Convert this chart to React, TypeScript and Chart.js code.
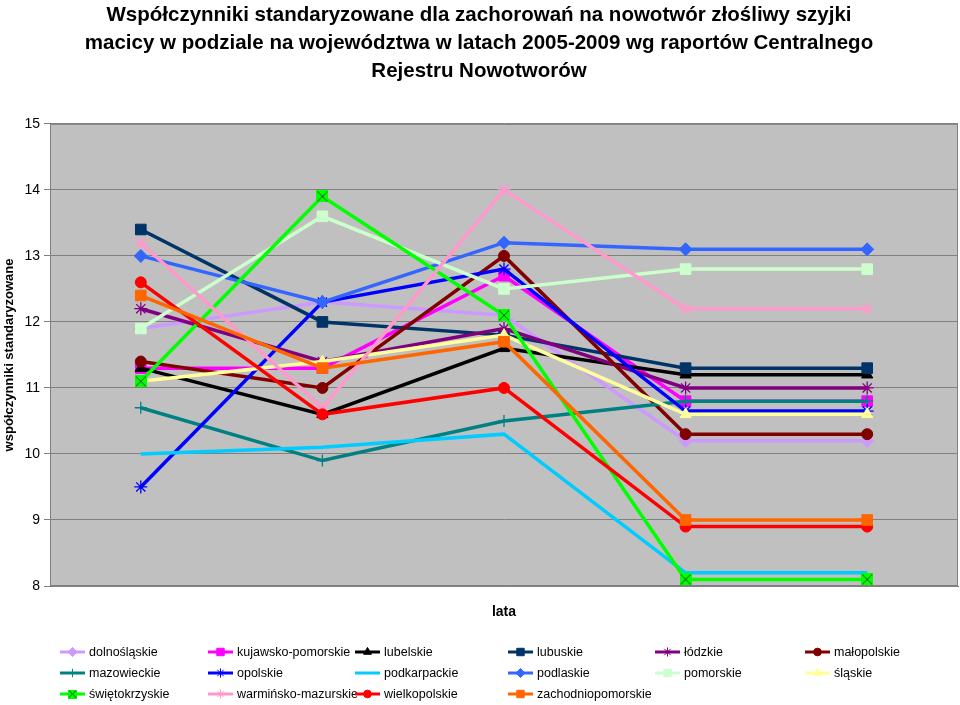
import React, { useEffect, useRef } from 'react';
import { Chart, registerables } from 'chart.js';
import { drawPoint } from 'chart.js/helpers';

Chart.register(...registerables);

const FONT = '"Liberation Sans", Arial, sans-serif';

const years = ['2005', '2006', '2007', '2008', '2009'];
const titleLines = [
  'Współczynniki standaryzowane dla zachorowań na nowotwór złośliwy szyjki',
  'macicy w podziale na województwa w latach 2005-2009 wg raportów Centralnego',
  'Rejestru Nowotworów',
];
const yAxisTitle = 'współczynniki standaryzowane';
const xAxisTitle = 'lata';
const yMin = 8;
const yMax = 15;
const yStep = 1;

const seriesNames = [
  'dolnośląskie', 'kujawsko-pomorskie', 'lubelskie', 'lubuskie', 'łódzkie', 'małopolskie',
  'mazowieckie', 'opolskie', 'podkarpackie', 'podlaskie', 'pomorskie', 'śląskie',
  'świętokrzyskie', 'warmińsko-mazurskie', 'wielkopolskie', 'zachodniopomorskie',
];

const dolnoslaskie = [11.9, 12.3, 12.1, 10.2, 10.2];
const kujawskoPomorskie = [11.3, 11.3, 12.7, 10.8, 10.8];
const lubelskie = [11.3, 10.6, 11.6, 11.2, 11.2];
const lubuskie = [13.4, 12.0, 11.8, 11.3, 11.3];
const lodzkie = [12.2, 11.4, 11.9, 11.0, 11.0];
const malopolskie = [11.4, 11.0, 13.0, 10.3, 10.3];
const mazowieckie = [10.7, 9.9, 10.5, 10.8, 10.8];
const opolskie = [9.5, 12.3, 12.8, 10.65, 10.65];
const podkarpackie = [10.0, 10.1, 10.3, 8.2, 8.2];
const podlaskie = [13.0, 12.3, 13.2, 13.1, 13.1];
const pomorskie = [11.9, 13.6, 12.5, 12.8, 12.8];
const slaskie = [11.1, 11.4, 11.8, 10.6, 10.6];
const swietokrzyskie = [11.1, 13.9, 12.1, 8.1, 8.1];
const warminskoMazurskie = [13.2, 10.7, 14.0, 12.2, 12.2];
const wielkopolskie = [12.6, 10.6, 11.0, 8.9, 8.9];
const zachodniopomorskie = [12.4, 11.3, 11.7, 9.0, 9.0];

const seriesValues = [
  dolnoslaskie, kujawskoPomorskie, lubelskie, lubuskie, lodzkie, malopolskie,
  mazowieckie, opolskie, podkarpackie, podlaskie, pomorskie, slaskie,
  swietokrzyskie, warminskoMazurskie, wielkopolskie, zachodniopomorskie,
];

const seriesColors = [
  '#CC99FF', '#FF00FF', '#000000', '#003366', '#800080', '#800000',
  '#008080', '#0000FF', '#00CCFF', '#3366FF', '#CCFFCC', '#FFFF99',
  '#00FF00', '#FF99CC', '#FF0000', '#FF6600',
];

const seriesMarkers = [
  'rectRot', 'rect', 'triangle', 'rect', 'star', 'circle',
  'cross', 'star', 'none', 'rectRot', 'rect', 'triangle',
  'boxX', 'star', 'circle', 'rect',
];

const markerRadius: Record<string, number> = {
  rectRot: 6.5, rect: 7.5, triangle: 6.5, star: 6.5, circle: 5.5, cross: 6, boxX: 6,
};

const legendColX = [60, 208, 355, 508, 655, 805];
const legendRowY = [652, 673, 694];

function makeBoxX(size: number, color: string) {
  const c = document.createElement('canvas');
  c.width = size;
  c.height = size;
  const g = c.getContext('2d')!;
  g.fillStyle = color;
  g.fillRect(0, 0, size, size);
  g.strokeStyle = '#1a4d1a';
  g.lineWidth = 1;
  g.beginPath();
  g.moveTo(1, 1);
  g.lineTo(size - 1, size - 1);
  g.moveTo(size - 1, 1);
  g.lineTo(1, size - 1);
  g.stroke();
  return c;
}

export default function App() {
  const ref = useRef<HTMLCanvasElement>(null);

  useEffect(() => {
    document.body.style.margin = '0';
    const canvas = ref.current;
    if (!canvas) return;

    const bigBox = makeBoxX(12, '#00FF00');
    const smallBox = makeBoxX(9, '#00FF00');

    const datasets = seriesNames.map((name, i) => {
      const m = seriesMarkers[i];
      const style: any = m === 'boxX' ? bigBox : m === 'none' ? 'circle' : m;
      return {
        label: name,
        data: seriesValues[i],
        borderColor: seriesColors[i],
        backgroundColor: seriesColors[i],
        pointBackgroundColor: seriesColors[i],
        pointBorderColor: seriesColors[i],
        pointStyle: style,
        pointRadius: m === 'none' ? 0 : markerRadius[m],
        pointHoverRadius: m === 'none' ? 0 : markerRadius[m],
        pointBorderWidth: m === 'star' || m === 'cross' ? 1.3 : 1,
        borderWidth: 3.5,
        tension: 0,
        fill: false,
        clip: false,
        order: seriesNames.length - i,
        _marker: m,
      };
    });

    const bgPlugin = {
      id: 'plotBg',
      beforeDraw(chart: any) {
        const { ctx, chartArea: a } = chart;
        ctx.save();
        ctx.fillStyle = '#FFFFFF';
        ctx.fillRect(0, 0, chart.width, chart.height);
        ctx.fillStyle = '#C0C0C0';
        ctx.fillRect(a.left, a.top, a.right - a.left, a.bottom - a.top);
        ctx.restore();
      },
      beforeDatasetsDraw(chart: any) {
        const { ctx, chartArea: a } = chart;
        ctx.save();
        ctx.strokeStyle = '#808080';
        ctx.lineWidth = 1;
        ctx.strokeRect(a.left + 0.5, a.top + 0.5, a.right - a.left - 1, a.bottom - a.top - 1);
        ctx.restore();
      },
    };

    const legendPlugin = {
      id: 'gridLegend',
      afterDraw(chart: any) {
        const ctx = chart.ctx;
        ctx.save();
        chart.data.datasets.forEach((ds: any, i: number) => {
          const x = legendColX[i % legendColX.length];
          const y = legendRowY[Math.floor(i / legendColX.length)];
          ctx.strokeStyle = ds.borderColor;
          ctx.lineWidth = 3;
          ctx.beginPath();
          ctx.moveTo(x, y);
          ctx.lineTo(x + 25, y);
          ctx.stroke();
          const m = ds._marker;
          if (m !== 'none') {
            ctx.fillStyle = ds.pointBackgroundColor;
            ctx.strokeStyle = ds.pointBorderColor;
            ctx.lineWidth = 1;
            drawPoint(
              ctx,
              {
                pointStyle: m === 'boxX' ? smallBox : m,
                radius: markerRadius[m] * 0.7,
                rotation: 0,
                borderWidth: 1,
              } as any,
              x + 12.5,
              y,
            );
          }
          ctx.fillStyle = '#000000';
          ctx.font = `12.5px ${FONT}`;
          ctx.textAlign = 'left';
          ctx.textBaseline = 'middle';
          ctx.fillText(ds.label, x + 29, y + 1);
        });
        ctx.restore();
      },
    };

    const chart = new Chart(canvas, {
      type: 'line',
      data: { labels: years, datasets: datasets as any },
      plugins: [bgPlugin, legendPlugin],
      options: {
        responsive: false,
        animation: false,
        events: [],
        layout: { autoPadding: false, padding: { left: 0, right: 2, top: 0, bottom: 79 } },
        font: { family: FONT },
        plugins: {
          legend: { display: false },
          tooltip: { enabled: false },
          title: {
            display: true,
            text: titleLines,
            color: '#000000',
            font: { family: FONT, size: 20.5, weight: 'bold', lineHeight: 1.38 },
            padding: { top: 1, bottom: 38 },
          },
        },
        scales: {
          x: {
            type: 'category',
            offset: true,
            grid: { display: false, drawTicks: false },
            border: { display: true, color: '#808080' },
            ticks: { display: false },
            title: {
              display: true,
              text: xAxisTitle,
              color: '#000000',
              font: { family: FONT, size: 14, weight: 'bold' },
              padding: { top: 0, bottom: 5 },
            },
            afterFit(s: any) {
              s.height = 40;
            },
          },
          y: {
            min: yMin,
            max: yMax,
            ticks: {
              stepSize: yStep,
              color: '#000000',
              font: { family: FONT, size: 14 },
              padding: 4,
            },
            grid: { color: '#808080', tickLength: 6, lineWidth: 1 },
            border: { display: true, color: '#808080' },
            title: {
              display: true,
              text: yAxisTitle,
              color: '#000000',
              font: { family: FONT, size: 13, weight: 'bold' },
              padding: { top: 2, bottom: 0 },
            },
            afterFit(s: any) {
              s.width = 50;
            },
          },
        },
      } as any,
    });

    return () => {
      chart.destroy();
    };
  }, []);

  return (
    <div style={{ width: 960, height: 705 }}>
      <canvas ref={ref} width={960} height={705} style={{ display: 'block' }} />
    </div>
  );
}
